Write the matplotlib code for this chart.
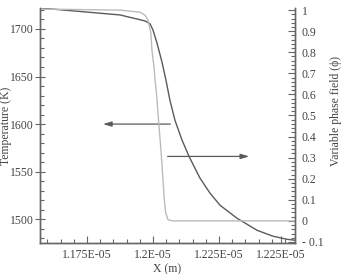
import matplotlib
matplotlib.use("Agg")
import matplotlib.pyplot as plt
from matplotlib.ticker import FixedLocator, FixedFormatter, MultipleLocator
import numpy as np

plt.rcParams['font.family'] = ['Liberation Serif', 'DejaVu Serif']

# Temperature curve (x in 1e-5 m, T in K)
x_T = [1.1572, 1.1875, 1.1970, 1.1989, 1.2000, 1.2015, 1.2034, 1.2049, 1.2064,
       1.2083, 1.2110, 1.2136, 1.2178, 1.2216, 1.2254, 1.2318, 1.2394, 1.2455,
       1.2508, 1.2538]
T = [1722, 1714.7, 1708.4, 1705.3, 1698.9, 1685.3, 1665.3, 1646.3, 1625.3,
     1604.2, 1583.2, 1566.3, 1543.2, 1527.4, 1514.7, 1501.1, 1488.4, 1482.1,
     1478.9, 1477.9]

# Phase field curve
x_phi = [1.1572, 1.1875, 1.1951, 1.1970, 1.1981, 1.1992, 1.1996, 1.2004, 1.2008,
         1.2015, 1.2022, 1.2030, 1.2036, 1.2043, 1.2048, 1.2057, 1.2075, 1.2538]
phi = [1.005, 1.0, 0.99, 0.976, 0.953, 0.891, 0.81, 0.73, 0.668,
       0.58, 0.46, 0.34, 0.23, 0.10, 0.04, 0.005, 0.0, 0.0]

x_ticks = [1.175, 1.2, 1.225, 1.2485]
x_tick_labels = ['1.175E-05', '1.2E-05', '1.225E-05', '1.225E-05']
T_ticks = [1500, 1550, 1600, 1650, 1700]
phi_ticks = [-0.1, 0, 0.1, 0.2, 0.3, 0.4, 0.5, 0.6, 0.7, 0.8, 0.9, 1.0]
phi_tick_labels = ['- 0.1', '0', '0.1', '0.2', '0.3', '0.4', '0.5', '0.6', '0.7', '0.8', '0.9', '1']

fig = plt.figure(figsize=(3.45, 2.74), dpi=100)
ax = fig.add_axes([40/345, 31/274, 255/345, 235/274])
ax2 = ax.twinx()

dark = '#5a5a5a'
light = '#bbbbbb'
axcol = '#666666'
txtcol = '#444444'

ax.plot(np.array(x_T) * 1e-5, T, color=dark, lw=1.0, zorder=3)
ax2.plot(np.array(x_phi) * 1e-5, phi, color=light, lw=1.0, zorder=2)

ax.set_xlim(1.1572e-5, 1.2538e-5)
ax.set_ylim(1475, 1722)
ax2.set_ylim(-0.105, 1.01)

for a in (ax, ax2):
    a.spines['top'].set_visible(False)
    for s in ('left', 'right', 'bottom'):
        a.spines[s].set_color(axcol)
        a.spines[s].set_linewidth(1.0)

ax.xaxis.set_major_locator(FixedLocator([v * 1e-5 for v in x_ticks]))
ax.xaxis.set_major_formatter(FixedFormatter(x_tick_labels))
ax.xaxis.set_minor_locator(MultipleLocator(0.005e-5))
ax.yaxis.set_major_locator(FixedLocator(T_ticks))
ax.yaxis.set_minor_locator(MultipleLocator(10))
ax2.yaxis.set_major_locator(FixedLocator(phi_ticks))
ax2.yaxis.set_major_formatter(FixedFormatter(phi_tick_labels))
ax2.yaxis.set_minor_locator(MultipleLocator(0.02))

ax.tick_params(axis='x', which='major', direction='in', length=5, width=0.8, color=axcol,
               labelsize=8.5, labelcolor=txtcol, pad=4)
ax.tick_params(axis='x', which='minor', direction='in', length=3, width=0.8, color=axcol)
ax.tick_params(axis='y', which='major', direction='inout', length=7, width=0.8, color=axcol,
               labelsize=8.5, labelcolor=txtcol, pad=1)
ax.tick_params(axis='y', which='minor', direction='in', length=3, width=0.8, color=axcol)
ax2.tick_params(axis='y', which='major', direction='in', length=5, width=0.8, color=axcol,
                labelsize=8.5, labelcolor=txtcol, pad=5)
ax2.tick_params(axis='y', which='minor', direction='in', length=3, width=0.8, color=axcol)

ax.set_xlabel('X (m)', fontsize=8.5, color=txtcol)
ax.xaxis.set_label_coords((167 - 40) / 255, (243 - 263) / 235)
ax.set_ylabel('Temperature (K)', fontsize=8.5, color=txtcol)
ax.yaxis.set_label_coords((12 - 40) / 255, 0.5)
ax2.set_ylabel('Variable phase field (\u03d5)', fontsize=8.5, color=txtcol)
ax2.yaxis.set_label_coords((330 - 40) / 255, (243 - 111) / 235)

ax.annotate('', xy=(1.1800e-5, 1600), xytext=(1.2076e-5, 1600),
            arrowprops=dict(arrowstyle='-|>,head_length=0.5,head_width=0.15', color=dark, lw=0.9))
ax.annotate('', xy=(1.2375e-5, 1566), xytext=(1.2045e-5, 1566),
            arrowprops=dict(arrowstyle='-|>,head_length=0.5,head_width=0.15', color=dark, lw=0.9))

fig.savefig('out.png', dpi=100)
